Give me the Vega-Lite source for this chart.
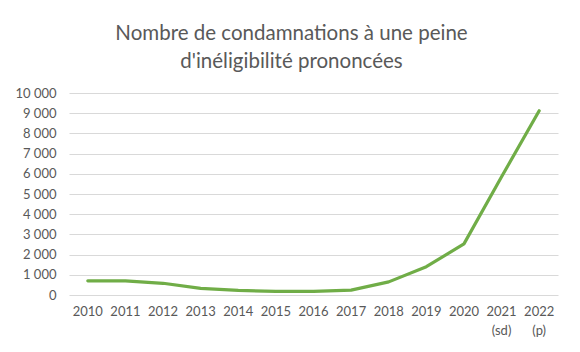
{
  "$schema": "https://vega.github.io/schema/vega-lite/v6.json",
  "autosize": "none",
  "width": 489,
  "height": 202,
  "padding": {"left": 69, "top": 93, "right": 22, "bottom": 57},
  "background": "white",
  "title": {
    "text": ["Nombre de condamnations à une peine", "d'inéligibilité prononcées"],
    "font": "Lato",
    "fontSize": 20.5,
    "fontWeight": "normal",
    "color": "#595959",
    "lineHeight": 28,
    "anchor": "middle",
    "dx": -22,
    "offset": 15
  },
  "data": {
    "values": [
      {"year": "2010", "n": 700},
      {"year": "2011", "n": 700},
      {"year": "2012", "n": 580},
      {"year": "2013", "n": 330},
      {"year": "2014", "n": 230},
      {"year": "2015", "n": 180},
      {"year": "2016", "n": 180},
      {"year": "2017", "n": 240},
      {"year": "2018", "n": 650},
      {"year": "2019", "n": 1400},
      {"year": "2020", "n": 2530},
      {"year": "2021 (sd)", "n": 5850},
      {"year": "2022 (p)", "n": 9120}
    ]
  },
  "mark": {"type": "line", "color": "#70ad47", "strokeWidth": 3.2, "interpolate": "linear", "strokeCap": "round", "strokeJoin": "round"},
  "encoding": {
    "x": {
      "field": "year",
      "type": "ordinal",
      "sort": null,
      "scale": {"type": "band", "paddingInner": 0, "paddingOuter": 0},
      "axis": {
        "title": null,
        "labelAngle": 0,
        "domain": false,
        "ticks": false,
        "grid": false,
        "labelFont": "Lato",
        "labelFontSize": 13,
        "labelColor": "#595959",
        "labelPadding": 10,
        "labelLineHeight": 19,
        "labelExpr": "split(datum.value, ' ')"
      }
    },
    "y": {
      "field": "n",
      "type": "quantitative",
      "scale": {"domain": [0, 10000]},
      "axis": {
        "title": null,
        "values": [0, 1000, 2000, 3000, 4000, 5000, 6000, 7000, 8000, 9000, 10000],
        "domain": false,
        "ticks": false,
        "gridColor": "#d9d9d9",
        "gridWidth": 1,
        "labelFont": "Lato",
        "labelFontSize": 13,
        "labelColor": "#595959",
        "labelPadding": 13,
        "labelExpr": "replace(format(datum.value, ','), ',', ' ')"
      }
    }
  },
  "config": {"view": {"stroke": null}}
}
